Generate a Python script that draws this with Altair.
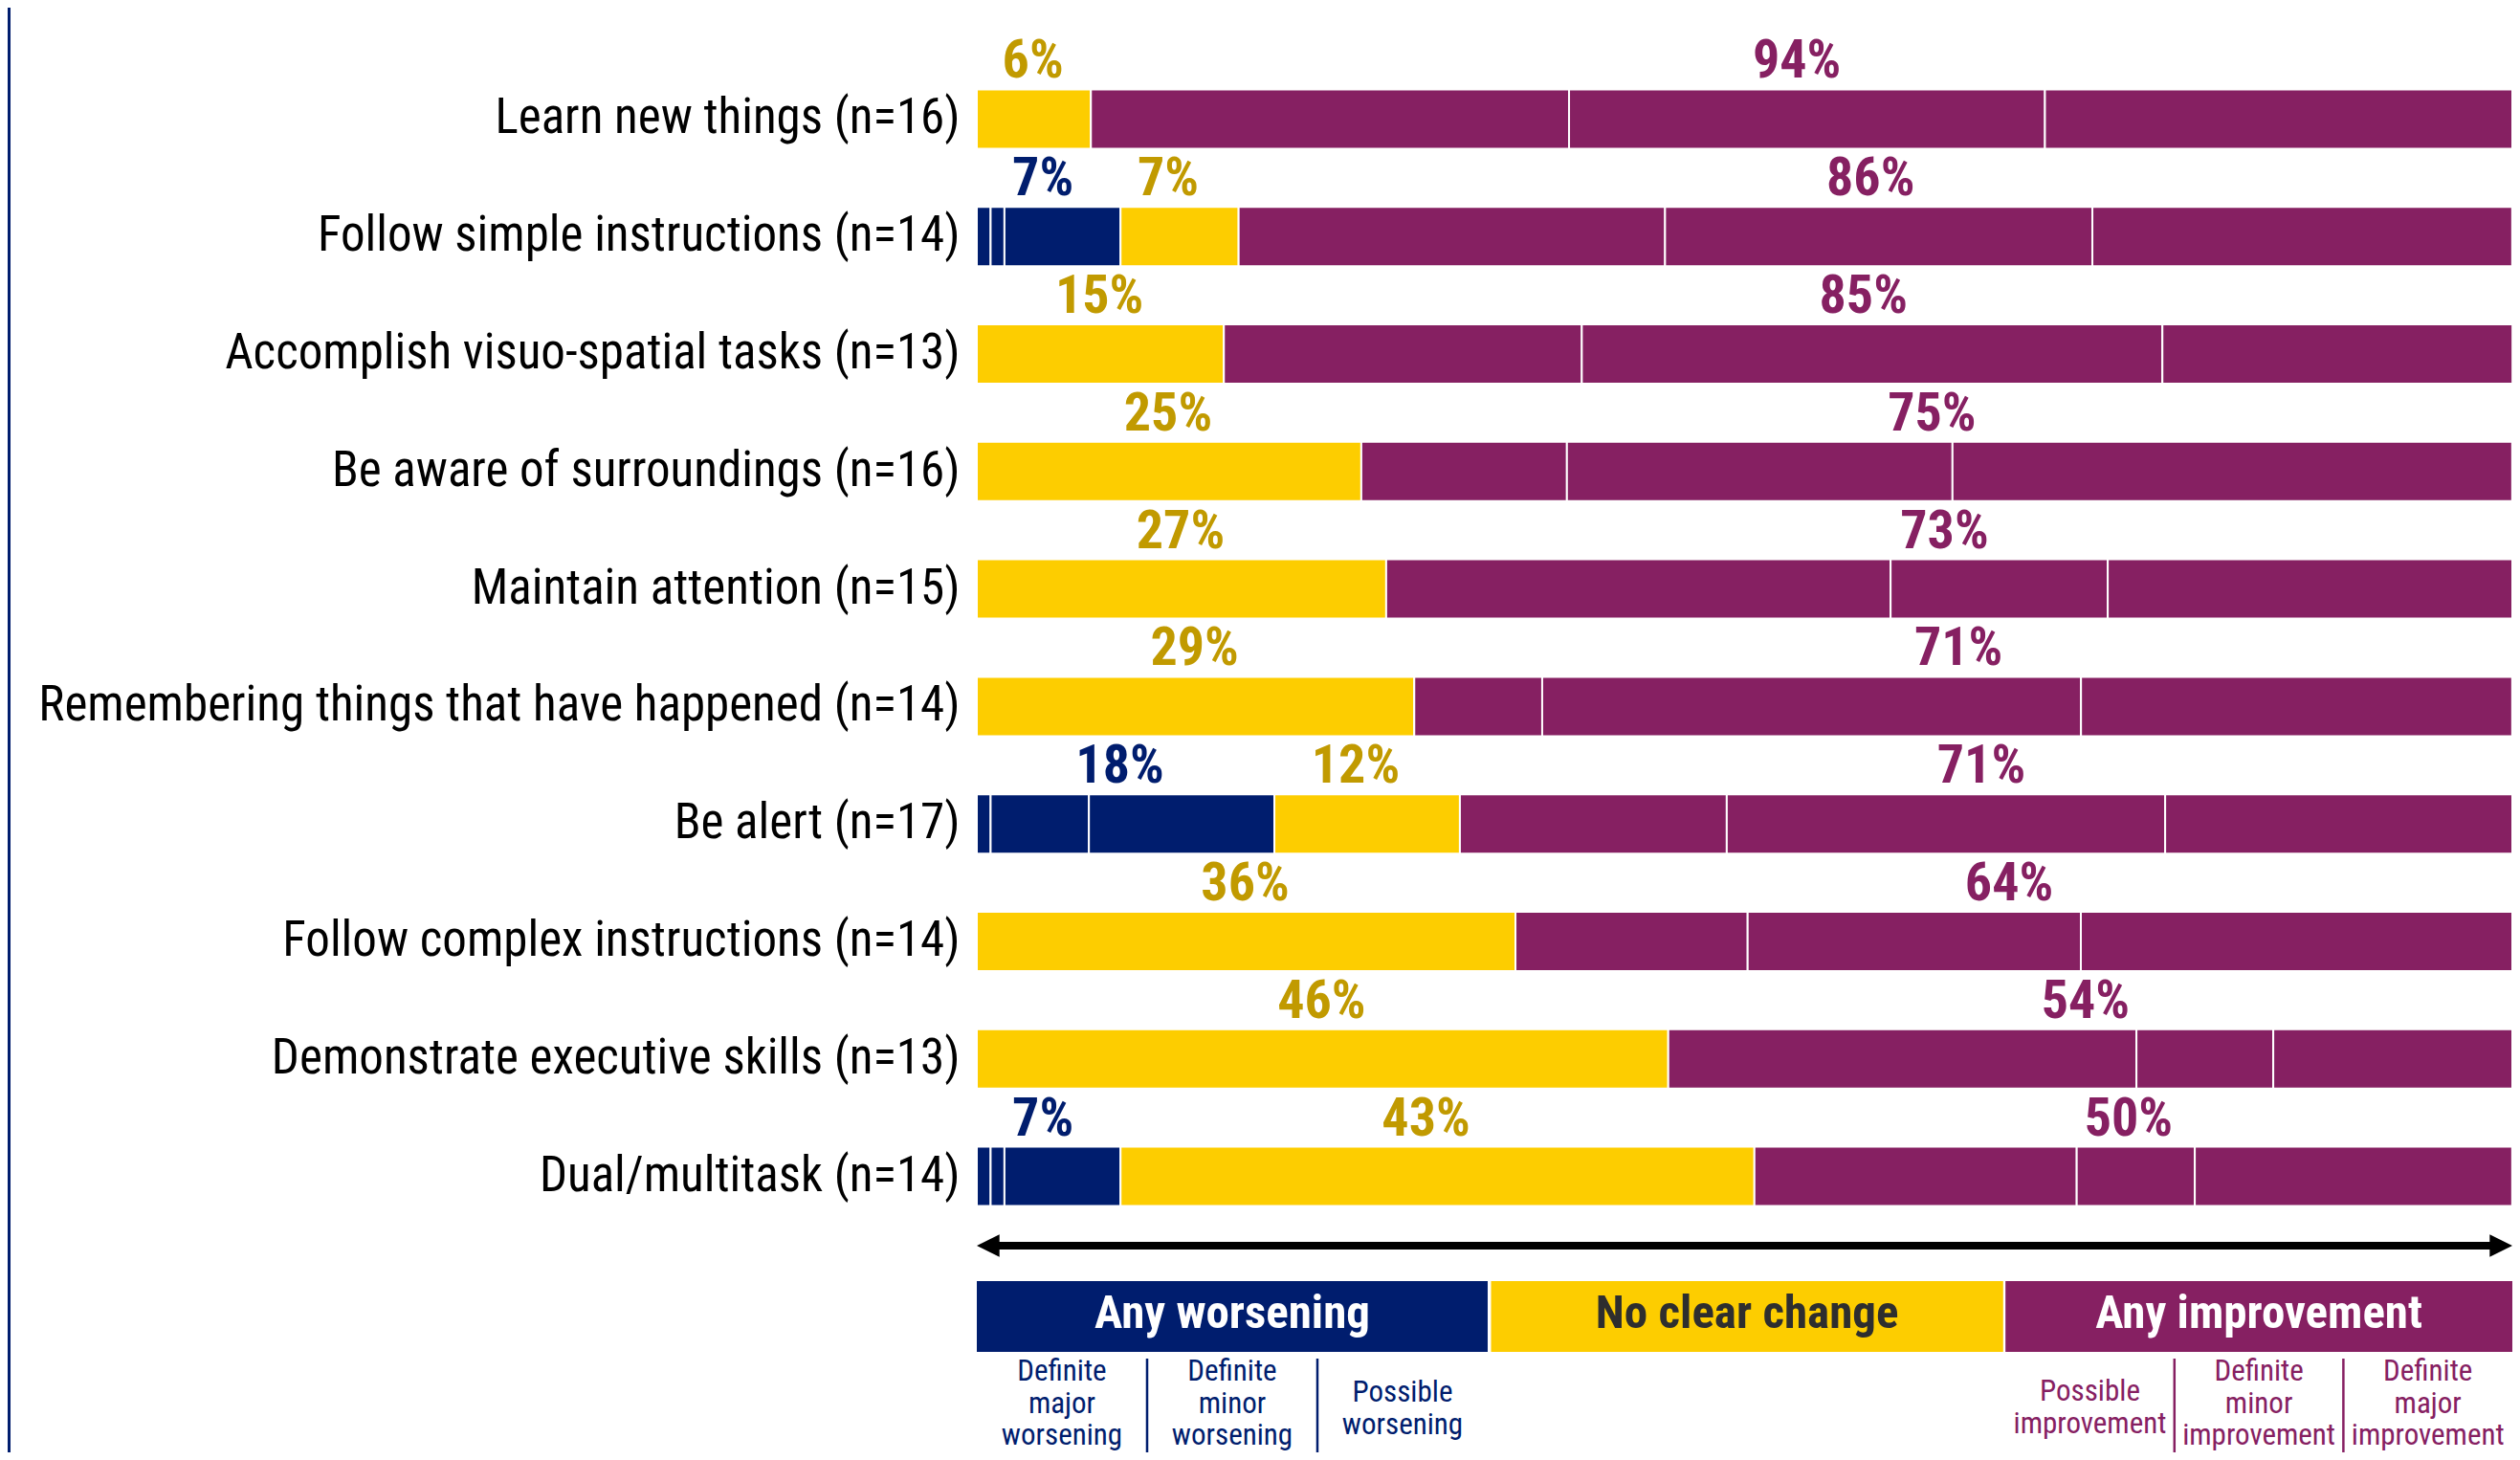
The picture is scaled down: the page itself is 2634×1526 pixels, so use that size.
import altair as alt
import pandas as pd

# ---------------- data ----------------
categories = [
    "Learn new things (n=16)",
    "Follow simple instructions (n=14)",
    "Accomplish visuo-spatial tasks (n=13)",
    "Be aware of surroundings (n=16)",
    "Maintain attention (n=15)",
    "Remembering things that have happened (n=14)",
    "Be alert (n=17)",
    "Follow complex instructions (n=14)",
    "Demonstrate executive skills (n=13)",
    "Dual/multitask (n=14)",
]

segment_names = [
    "Definite major worsening",
    "Definite minor worsening",
    "Possible worsening",
    "No clear change",
    "Possible improvement",
    "Definite minor improvement",
    "Definite major improvement",
]

# drawn width of each segment, % of the bar length
major_worse = [0, 0.90, 0, 0, 0, 0, 0.90, 0, 0, 0.90]
minor_worse = [0, 0.90, 0, 0, 0, 0, 6.40, 0, 0, 0.90]
possible_worse = [0, 7.56, 0, 0, 0, 0, 12.08, 0, 0, 7.56]
no_change = [7.43, 7.69, 16.09, 25.04, 26.66, 28.49, 12.08, 35.08, 45.03, 41.28]
possible_impr = [31.14, 27.77, 23.31, 13.39, 32.85, 8.33, 17.38, 15.12, 30.49, 20.99]
minor_impr = [30.99, 27.83, 37.81, 25.11, 14.14, 35.09, 28.55, 21.70, 8.91, 7.69]
major_impr = [30.44, 27.34, 22.80, 36.45, 26.35, 28.08, 22.61, 28.10, 15.57, 20.67]

# printed group percentages
worse_labels = ["", "7%", "", "", "", "", "18%", "", "", "7%"]
nochange_labels = ["6%", "7%", "15%", "25%", "27%", "29%", "12%", "36%", "46%", "43%"]
impr_labels = ["94%", "86%", "85%", "75%", "73%", "71%", "71%", "64%", "54%", "50%"]

legend_groups = ["Any worsening", "No clear change", "Any improvement"]
legend_box_start = [0, 33.49, 66.99]
legend_box_end = [33.27, 66.84, 100]
sub_labels = [
    "Definite\nmajor\nworsening",
    "Definite\nminor\nworsening",
    "Possible\nworsening",
    "Possible\nimprovement",
    "Definite\nminor\nimprovement",
    "Definite\nmajor\nimprovement",
]

# ---------------- styling ----------------
NAVY = "#001D6E"
YELLOW = "#FDCD00"
PURPLE = "#862062"
YELLOW_TXT = "#C19A00"
FONT = "Roboto Condensed, Liberation Sans Narrow, DejaVu Sans Condensed, Liberation Sans, sans-serif"

# ---------------- tables ----------------
seg_rows = []
lab_rows = []
for i, cat in enumerate(categories):
    widths = [major_worse[i], minor_worse[i], possible_worse[i], no_change[i],
              possible_impr[i], minor_impr[i], major_impr[i]]
    s = 0.0
    for name, w in zip(segment_names, widths):
        if w > 0:
            seg_rows.append(dict(category=cat, segment=name, start=s, end=s + w))
        s += w
    total = s
    w_end = sum(widths[:3])
    n_end = w_end + widths[3]
    has_w = worse_labels[i] != ""
    if has_w:
        lab_rows.append(dict(category=cat, grp="w", mid=w_end / 2, text=worse_labels[i]))
    lab_rows.append(dict(category=cat, grp="n2" if has_w else "n", mid=(w_end + n_end) / 2,
                         text=nochange_labels[i]))
    lab_rows.append(dict(category=cat, grp="i", mid=(n_end + total) / 2, text=impr_labels[i]))

seg_df = pd.DataFrame(seg_rows)
lab_df = pd.DataFrame(lab_rows)

leg_df = pd.DataFrame(dict(group=legend_groups, start=legend_box_start, end=legend_box_end))
leg_df["mid"] = (leg_df["start"] + leg_df["end"]) / 2

sub_rows = []
for k, lab in enumerate(sub_labels):
    box = 0 if k < 3 else 2
    j = k if k < 3 else k - 3
    a, b = legend_box_start[box], legend_box_end[box]
    sub_rows.append(dict(text=lab, xc=a + (j + 0.5) * (b - a) / 3,
                         lines=lab.count("\n") + 1, side="w" if k < 3 else "i"))
sub_df = pd.DataFrame(sub_rows)

div_rows = []
for box, side in [(0, "w"), (2, "i")]:
    a, b = legend_box_start[box], legend_box_end[box]
    for j in (1, 2):
        div_rows.append(dict(xd=a + j * (b - a) / 3, side=side))
div_df = pd.DataFrame(div_rows)

arrow_df = pd.DataFrame(dict(a=[0.0], b=[100.0], a_in=[0.7], b_in=[99.3]))

# ---------------- chart ----------------
xscale = alt.Scale(domain=[0, 100], nice=False, zero=False)
X = lambda f: alt.X(f, scale=xscale, axis=None)

bars = alt.Chart(seg_df).mark_bar(stroke="white", strokeWidth=2).encode(
    x=X("start:Q"),
    x2="end:Q",
    y=alt.Y(
        "category:N",
        sort=categories,
        scale=alt.Scale(domain=categories, paddingInner=0.495, paddingOuter=0.2475),
        axis=alt.Axis(
            title=None, ticks=False, domain=False, grid=False,
            labelFont=FONT, labelFontSize=51, labelColor="#000000",
            labelPadding=18, labelLimit=1500,
        ),
    ),
    color=alt.Color(
        "segment:N",
        scale=alt.Scale(domain=segment_names,
                        range=[NAVY, NAVY, NAVY, YELLOW, PURPLE, PURPLE, PURPLE]),
        legend=None,
    ),
)


def pct_layer(grp, color, dx):
    return alt.Chart(lab_df).transform_filter(alt.datum.grp == grp).mark_text(
        font=FONT, fontSize=56, fontWeight="bold", color=color,
        baseline="alphabetic", align="center", dy=-43, dx=dx,
    ).encode(x=X("mid:Q"), y=alt.Y("category:N", sort=categories), text="text:N")


labels = [
    pct_layer("w", NAVY, -6),
    pct_layer("n", YELLOW_TXT, -1),
    pct_layer("n2", YELLOW_TXT, -12),
    pct_layer("i", PURPLE, -5),
]

# left navy stripe
stripe = alt.Chart(pd.DataFrame(dict(v=[0]))).mark_rect(color=NAVY).encode(
    x=alt.value(-1013), x2=alt.value(-1010), y=alt.value(-60), y2=alt.value(1460)
)

# double-headed arrow
ARROW_Y = 1239
arrow_line = alt.Chart(arrow_df).mark_rule(color="black", strokeWidth=8, strokeCap="butt").encode(
    x=X("a_in:Q"), x2="b_in:Q", y=alt.value(ARROW_Y)
)
arrow_left = alt.Chart(arrow_df).mark_point(
    shape="M0,0L2,-1L2,1Z", filled=True, size=560, color="black", opacity=1, strokeWidth=0
).encode(x=X("a:Q"), y=alt.value(ARROW_Y))
arrow_right = alt.Chart(arrow_df).mark_point(
    shape="M0,0L-2,-1L-2,1Z", filled=True, size=560, color="black", opacity=1, strokeWidth=0
).encode(x=X("b:Q"), y=alt.value(ARROW_Y))

# legend boxes
boxes = alt.Chart(leg_df).mark_rect().encode(
    x=X("start:Q"), x2="end:Q", y=alt.value(1276), y2=alt.value(1350),
    color=alt.Color("group:N", scale=alt.Scale(domain=legend_groups, range=[NAVY, YELLOW, PURPLE]),
                    legend=None),
)


def box_text(group, color):
    return alt.Chart(leg_df).transform_filter(alt.datum.group == group).mark_text(
        font=FONT, fontSize=49, fontWeight="bold", color=color, baseline="alphabetic", align="center"
    ).encode(x=X("mid:Q"), y=alt.value(1325), text="group:N")


box_texts = [box_text(legend_groups[0], "white"), box_text(legend_groups[1], "#2E2E2E"),
             box_text(legend_groups[2], "white")]


def dividers(side, color):
    return alt.Chart(div_df).transform_filter(alt.datum.side == side).mark_rule(
        color=color, strokeWidth=2.5
    ).encode(x=X("xd:Q"), y=alt.value(1357), y2=alt.value(1470))


divs = [dividers("w", NAVY), dividers("i", PURPLE)]


def sub_text(side, lines, color, y):
    return alt.Chart(sub_df).transform_filter(
        (alt.datum.side == side) & (alt.datum.lines == lines)
    ).mark_text(
        font=FONT, fontSize=31, color=color, baseline="alphabetic", align="center",
        lineBreak="\n", lineHeight=33.5,
    ).encode(x=X("xc:Q"), y=alt.value(y), text="text:N")


subs = [
    sub_text("w", 3, NAVY, 1380),
    sub_text("w", 2, NAVY, 1402),
    sub_text("i", 3, PURPLE, 1380),
    sub_text("i", 2, PURPLE, 1401),
]

chart = alt.layer(
    bars, *labels, stripe, arrow_line, arrow_left, arrow_right, boxes, *box_texts, *divs, *subs
).resolve_scale(color="independent").properties(
    width=1605,
    height=1228,
    autosize=alt.AutoSizeParams(type="none"),
    padding={"left": 1013, "top": 55, "right": 0, "bottom": 227},
    background="white",
).configure_view(stroke=None)

chart.save("out.html", embed_options={"renderer": "svg", "actions": False})
